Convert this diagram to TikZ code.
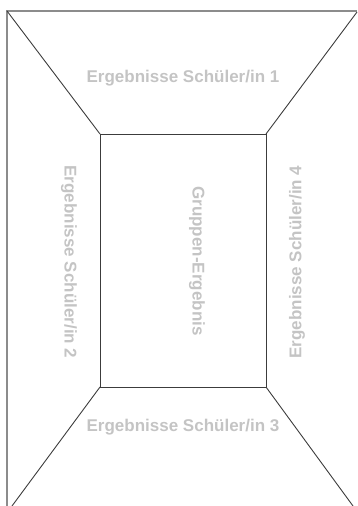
\documentclass[tikz,border=0pt]{standalone}
\usepackage{fontspec}
\setmainfont{Liberation Sans}
\usepackage{xcolor}
\usepackage{tikz}

\definecolor{labelgray}{HTML}{C4C4C4}
\definecolor{linegray}{HTML}{3C3C3C}
\definecolor{framegray}{HTML}{8C8C8C}

\begin{document}
\begin{tikzpicture}[x=0.5pt, y=-0.5pt,
  field/.style={text=labelgray, font=\bfseries\fontsize{8.5}{10}\selectfont},
  edge/.style={draw=linegray, line width=0.45pt}]
\useasboundingbox (0,0) rectangle (357,506);
% outer frame
\coordinate (otl) at (7,11);
\coordinate (otr) at (357,12);
\coordinate (obl) at (12,506);
\coordinate (obr) at (353,506);
\draw[framegray, line width=0.75pt] (7,506) -- (otl) -- (357,11);
% inner field
\coordinate (itl) at (100,134);
\coordinate (itr) at (266,134);
\coordinate (ibl) at (100,387);
\coordinate (ibr) at (266,387);
\draw[edge] (itl) rectangle (ibr);
\draw[edge] (otl) -- (itl);
\draw[edge] (otr) -- (itr);
\draw[edge] (obl) -- (ibl);
\draw[edge] (obr) -- (ibr);
% labels
\node[field] (s1) at (183,78) {Ergebnisse Schüler/in 1};
\node[field, rotate=-90] (s2) at (69,262) {Ergebnisse Schüler/in 2};
\node[field] (s3) at (183,427) {Ergebnisse Schüler/in 3};
\node[field, rotate=90] (s4) at (297,262) {Ergebnisse Schüler/in 4};
\node[field, rotate=-90] (grp) at (197,261) {Gruppen-Ergebnis};
\end{tikzpicture}
\end{document}
